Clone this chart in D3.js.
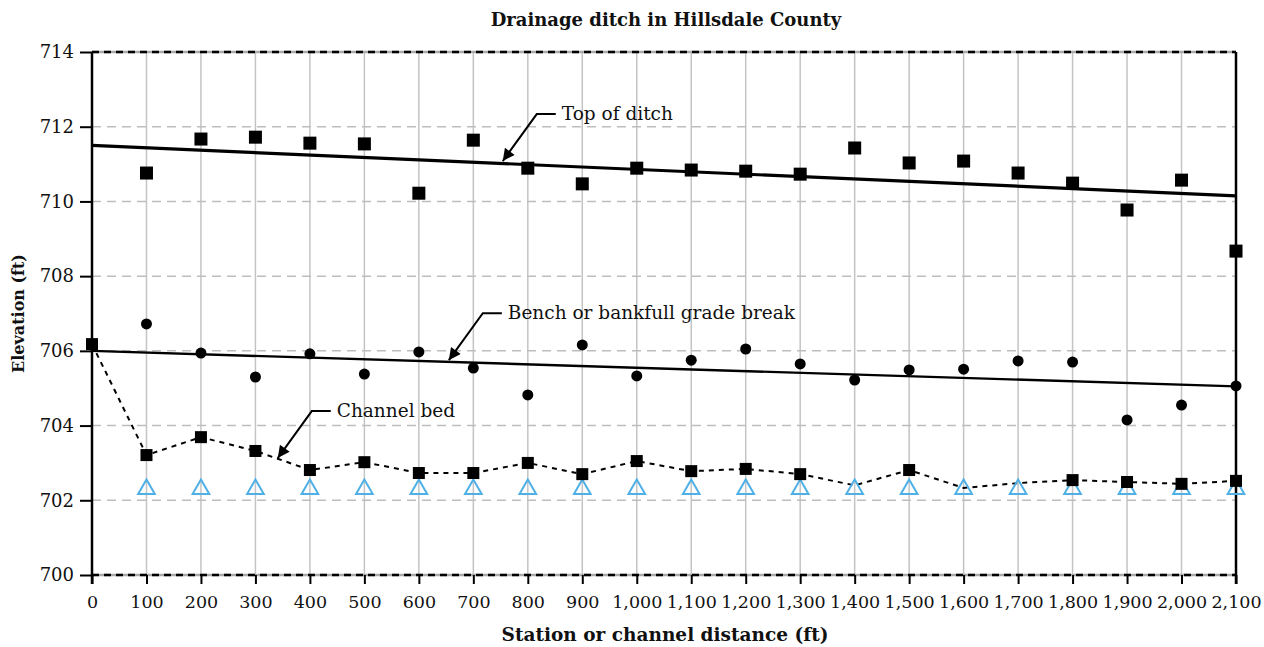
<!DOCTYPE html>
<html>
<head>
<meta charset="utf-8">
<script src="https://cdn.jsdelivr.net/npm/d3@7"></script>
<style>
  body { margin: 0; background: #fff; }
  svg text { font-family: "DejaVu Serif", serif; fill: #111; }
</style>
</head>
<body>
<div class="container"></div>
<script>
// stations along the channel (ft)
const stations = [0, 100, 200, 300, 400, 500, 600, 700, 800, 900, 1000, 1100, 1200, 1300, 1400, 1500, 1600, 1700, 1800, 1900, 2000, 2100]
const yTicks = [700, 702, 704, 706, 708, 710, 712, 714]

// top of ditch (no reading at station 0)
const topOfDitch = [null, 710.76, 711.67, 711.72, 711.56, 711.54, 710.22, 711.64, 710.89, 710.47, 710.89, 710.84, 710.81, 710.73, 711.43, 711.03, 711.08, 710.76, 710.49, 709.77, 710.57, 708.67]
const topTrend = [711.5, 710.15]

// bench or bankfull grade break
const bench = [null, 706.72, 705.94, 705.30, 705.92, 705.38, 705.97, 705.54, 704.82, 706.16, 705.33, 705.75, 706.05, 705.65, 705.22, 705.49, 705.51, 705.73, 705.70, 704.15, 704.55, 705.06]
const benchTrend = [706.0, 705.05]

// channel bed
const channelBed = [706.18, 703.21, 703.69, 703.32, 702.81, 703.02, 702.73, 702.73, 703.0, 702.70, 703.05, 702.78, 702.84, 702.70, 702.40, 702.81, 702.33, 702.46, 702.54, 702.49, 702.44, 702.52]
const bedMarked = [true, true, true, true, true, true, true, true, true, true, true, true, true, true, false, true, false, false, true, true, true, true]

// open triangles
const triangleLevel = [null, 702.3, 702.3, 702.3, 702.3, 702.3, 702.3, 702.3, 702.3, 702.3, 702.3, 702.3, 702.3, 702.3, 702.3, 702.3, 702.3, 702.3, 702.3, 702.3, 702.3, 702.3]

const labels = [
  { text: 'Top of ditch', tip: [754, 711.08] },
  { text: 'Bench or bankfull grade break', tip: [655, 705.75] },
  { text: 'Channel bed', tip: [341, 703.13] }
]

const width = 1264
const height = 647
const margin = { top: 52, right: 28, bottom: 72, left: 92 }

const svg = d3.select('.container')
  .append('svg')
  .attr('width', width)
  .attr('height', height)

const x = d3.scaleLinear().domain([0, 2100]).range([margin.left, width - margin.right])
const y = d3.scaleLinear().domain([700, 714]).range([height - margin.bottom, margin.top])

const x0 = x(0), x1 = x(2100), yb = y(700), yt = y(714)

// arrow head
svg.append('defs').append('marker')
  .attr('id', 'arrow')
  .attr('viewBox', '0 0 10 10')
  .attr('refX', 10).attr('refY', 5)
  .attr('markerWidth', 15).attr('markerHeight', 12)
  .attr('markerUnits', 'userSpaceOnUse')
  .attr('orient', 'auto')
  .append('path')
  .attr('d', 'M0,0 L10,5 L0,10 Z')
  .attr('fill', '#000')

// grid
svg.append('g')
  .selectAll('line')
  .data(stations.slice(1, -1))
  .join('line')
  .attr('x1', d => x(d)).attr('x2', d => x(d))
  .attr('y1', yt).attr('y2', yb)
  .attr('stroke', '#c4c4c4')
  .attr('stroke-width', 1.5)

svg.append('g')
  .selectAll('line')
  .data(yTicks.slice(1, -1))
  .join('line')
  .attr('x1', x0).attr('x2', x1)
  .attr('y1', d => y(d)).attr('y2', d => y(d))
  .attr('stroke', '#bdbdbd')
  .attr('stroke-width', 1.5)
  .attr('stroke-dasharray', '9,6')

// top and bottom frame: grey line with black dashes
;[yt, yb].forEach(v => {
  svg.append('line').attr('x1', x0).attr('x2', x1).attr('y1', v).attr('y2', v)
    .attr('stroke', '#aaa').attr('stroke-width', 2.5)
  svg.append('line').attr('x1', x0).attr('x2', x1).attr('y1', v).attr('y2', v)
    .attr('stroke', '#000').attr('stroke-width', 2.5).attr('stroke-dasharray', '7,5')
})

// axes
const xAxis = svg.append('g')
  .attr('transform', `translate(0,${yb})`)
  .call(d3.axisBottom(x).tickValues(stations).tickSize(9).tickSizeOuter(0).tickFormat(d3.format(',')))
xAxis.select('.domain').remove()
xAxis.selectAll('line').attr('stroke', '#000').attr('stroke-width', 2)
xAxis.selectAll('text').attr('y', 16).attr('dy', '0.95em').style('font-size', '17.5px')

const yAxis = svg.append('g')
  .attr('transform', `translate(${x0},0)`)
  .call(d3.axisLeft(y).tickValues(yTicks).tickSize(12).tickSizeOuter(0))
yAxis.select('.domain').remove()
yAxis.selectAll('line').attr('stroke', '#000').attr('stroke-width', 2)
yAxis.selectAll('text').attr('x', -18).style('font-size', '18px')

svg.append('line').attr('x1', x0).attr('x2', x0).attr('y1', yt).attr('y2', yb + 9)
  .attr('stroke', '#000').attr('stroke-width', 2.5)
svg.append('line').attr('x1', x1).attr('x2', x1).attr('y1', yt).attr('y2', yb + 9)
  .attr('stroke', '#000').attr('stroke-width', 2.5)

// trend lines
svg.append('line')
  .attr('x1', x0).attr('y1', y(topTrend[0]))
  .attr('x2', x1).attr('y2', y(topTrend[1]))
  .attr('stroke', '#000').attr('stroke-width', 3.2)
svg.append('line')
  .attr('x1', x0).attr('y1', y(benchTrend[0]))
  .attr('x2', x1).attr('y2', y(benchTrend[1]))
  .attr('stroke', '#000').attr('stroke-width', 2.4)

// channel bed line
const bedLine = d3.line().x((d, i) => x(stations[i])).y(d => y(d))
svg.append('path')
  .attr('d', bedLine(channelBed))
  .attr('fill', 'none')
  .attr('stroke', '#000')
  .attr('stroke-width', 2)
  .attr('stroke-dasharray', '5,5')

// triangles
const tri = d3.symbol().type(d3.symbolTriangle).size(120)
svg.append('g')
  .selectAll('path')
  .data(stations.map((s, i) => [s, triangleLevel[i]]).filter(d => d[1] != null))
  .join('path')
  .attr('d', tri)
  .attr('transform', d => `translate(${x(d[0])},${y(d[1])})`)
  .attr('fill', 'none')
  .attr('stroke', '#4fb0e6')
  .attr('stroke-width', 2)

// squares: top of ditch
const sq = 13
svg.append('g')
  .selectAll('rect')
  .data(stations.map((s, i) => [s, topOfDitch[i]]).filter(d => d[1] != null))
  .join('rect')
  .attr('x', d => x(d[0]) - sq / 2)
  .attr('y', d => y(d[1]) - sq / 2)
  .attr('width', sq).attr('height', sq)
  .attr('fill', '#000')

// squares: channel bed
svg.append('g')
  .selectAll('rect')
  .data(stations.map((s, i) => [s, channelBed[i], bedMarked[i]]).filter(d => d[2]))
  .join('rect')
  .attr('x', d => x(d[0]) - 6)
  .attr('y', d => y(d[1]) - 6)
  .attr('width', 12).attr('height', 12)
  .attr('fill', '#000')

// circles: bench
svg.append('g')
  .selectAll('circle')
  .data(stations.map((s, i) => [s, bench[i]]).filter(d => d[1] != null))
  .join('circle')
  .attr('cx', d => x(d[0]))
  .attr('cy', d => y(d[1]))
  .attr('r', 5.5)
  .attr('fill', '#000')

// annotations
labels.forEach(l => {
  const tx = x(l.tip[0]), ty = y(l.tip[1])
  const ex = tx + 34, ey = ty - 47
  svg.append('path')
    .attr('d', `M${ex + 19},${ey} L${ex},${ey} L${tx},${ty}`)
    .attr('fill', 'none')
    .attr('stroke', '#000')
    .attr('stroke-width', 2)
    .attr('marker-end', 'url(#arrow)')
  svg.append('text')
    .attr('x', ex + 25).attr('y', ey)
    .attr('dy', '0.33em')
    .style('font-size', '18.5px')
    .text(l.text)
})

// titles
svg.append('text')
  .attr('x', 666).attr('y', 26)
  .attr('text-anchor', 'middle')
  .style('font-size', '18px').style('font-weight', 'bold')
  .text('Drainage ditch in Hillsdale County')

svg.append('text')
  .attr('x', 665).attr('y', 641)
  .attr('text-anchor', 'middle')
  .style('font-size', '18.5px').style('font-weight', 'bold')
  .text('Station or channel distance (ft)')

svg.append('text')
  .attr('transform', `translate(24,${(yt + yb) / 2}) rotate(-90)`)
  .attr('text-anchor', 'middle')
  .style('font-size', '16px').style('font-weight', 'bold')
  .text('Elevation (ft)')
</script>
</body>
</html>
